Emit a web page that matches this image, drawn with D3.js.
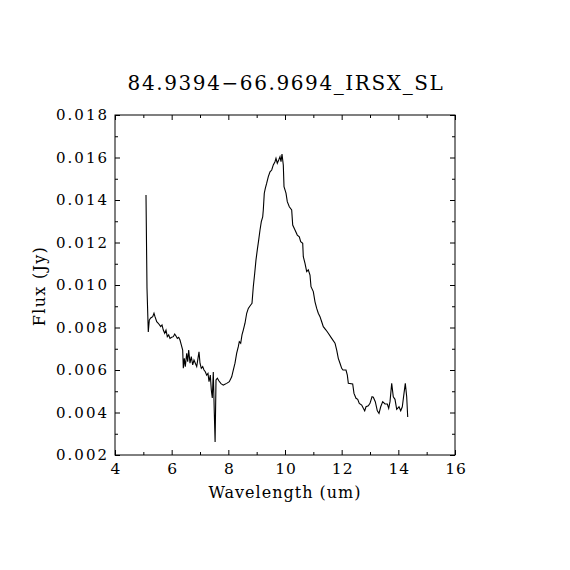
<!DOCTYPE html>
<html>
<head>
<meta charset="utf-8">
<script src="https://cdn.jsdelivr.net/npm/d3@7"></script>
<style>
  html, body { margin: 0; padding: 0; background: #fff; }
  svg text { font-family: "DejaVu Serif", "Liberation Serif", serif; fill: #000; }
</style>
</head>
<body>
<svg id="chart" width="570" height="570"></svg>
<script>
// Spectrum
const wavelength = [
  5.094, 5.129, 5.175, 5.211, 5.260, 5.331, 5.376, 5.412, 5.472, 5.528,
  5.613, 5.659, 5.705, 5.754, 5.800, 5.846, 5.895, 5.941, 6.001, 6.058,
  6.107, 6.153, 6.199, 6.248, 6.294, 6.340, 6.389, 6.411, 6.446, 6.481,
  6.531, 6.566, 6.601, 6.647, 6.693, 6.742, 6.788, 6.834, 6.884, 6.929,
  6.965, 7.000, 7.046, 7.095, 7.141, 7.187, 7.236, 7.282, 7.318, 7.364,
  7.399, 7.434, 7.469, 7.505, 7.533, 7.565, 7.611, 7.671, 7.741, 7.822,
  7.942, 8.034, 8.119, 8.175, 8.235, 8.295, 8.352, 8.387, 8.436, 8.482,
  8.528, 8.588, 8.648, 8.705, 8.789, 8.835, 8.881, 8.931, 8.976, 9.022,
  9.072, 9.118, 9.164, 9.213, 9.234, 9.269, 9.305, 9.354, 9.411, 9.471,
  9.531, 9.587, 9.647, 9.682, 9.728, 9.778, 9.824, 9.859, 9.894, 9.940,
  9.965, 10.035, 10.081, 10.152, 10.236, 10.272, 10.353, 10.434, 10.505, 10.554,
  10.625, 10.646, 10.706, 10.766, 10.822, 10.882, 10.918, 10.999, 11.059, 11.119,
  11.175, 11.235, 11.295, 11.352, 11.447, 11.528, 11.648, 11.765, 11.825, 11.881,
  11.941, 12.001, 12.047, 12.153, 12.200, 12.235, 12.389, 12.435, 12.506, 12.566,
  12.622, 12.707, 12.764, 12.813, 12.859, 12.940, 13.000, 13.071, 13.117, 13.187,
  13.258, 13.318, 13.378, 13.448, 13.529, 13.611, 13.660, 13.706, 13.766, 13.822,
  13.882, 13.942, 14.024, 14.084, 14.140, 14.200, 14.246, 14.295, 14.331
];
const flux = [
  0.01424, 0.00986, 0.00779, 0.00835, 0.00845, 0.00851, 0.00867, 0.00851, 0.00827, 0.00820,
  0.00804, 0.00812, 0.00788, 0.00773, 0.00788, 0.00757, 0.00765, 0.00749, 0.00754, 0.00757,
  0.00769, 0.00760, 0.00749, 0.00754, 0.00741, 0.00718, 0.00694, 0.00608, 0.00655, 0.00616,
  0.00679, 0.00639, 0.00694, 0.00632, 0.00663, 0.00624, 0.00647, 0.00632, 0.00616, 0.00655,
  0.00686, 0.00632, 0.00608, 0.00616, 0.00600, 0.00592, 0.00576, 0.00584, 0.00545, 0.00576,
  0.00506, 0.00468, 0.00591, 0.00398, 0.00261, 0.00553, 0.00561, 0.00548, 0.00536, 0.00529,
  0.00537, 0.00545, 0.00568, 0.00600, 0.00632, 0.00679, 0.00710, 0.00733, 0.00726, 0.00765,
  0.00788, 0.00820, 0.00867, 0.00890, 0.00906, 0.00914, 0.00992, 0.01055, 0.01118, 0.01165,
  0.01212, 0.01259, 0.01298, 0.01321, 0.01353, 0.01432, 0.01455, 0.01479, 0.01510, 0.01533,
  0.01541, 0.01565, 0.01580, 0.01596, 0.01573, 0.01588, 0.01604, 0.01580, 0.01616, 0.01565,
  0.01463, 0.01432, 0.01392, 0.01368, 0.01353, 0.01282, 0.01259, 0.01235, 0.01227, 0.01204,
  0.01196, 0.01133, 0.01102, 0.01063, 0.01071, 0.01047, 0.00992, 0.00969, 0.00921, 0.00890,
  0.00867, 0.00851, 0.00827, 0.00804, 0.00788, 0.00773, 0.00749, 0.00726, 0.00694, 0.00655,
  0.00632, 0.00608, 0.00600, 0.00600, 0.00576, 0.00537, 0.00534, 0.00490, 0.00467, 0.00462,
  0.00443, 0.00435, 0.00420, 0.00408, 0.00427, 0.00432, 0.00443, 0.00474, 0.00472, 0.00451,
  0.00408, 0.00396, 0.00427, 0.00451, 0.00440, 0.00440, 0.00420, 0.00451, 0.00537, 0.00474,
  0.00462, 0.00415, 0.00427, 0.00408, 0.00427, 0.00490, 0.00537, 0.00474, 0.00379
];

// Axis ticks
const xMajorTicks = [4, 6, 8, 10, 12, 14, 16];
const xMinorTicks = [5, 7, 9, 11, 13, 15];
const yMajorTicks = [0.002, 0.004, 0.006, 0.008, 0.010, 0.012, 0.014, 0.016, 0.018];
const yMinorTicks = [0.003, 0.005, 0.007, 0.009, 0.011, 0.013, 0.015, 0.017];

const titleText = "84.9394\u221266.9694_IRSX_SL";
const xLabel = "Wavelength (um)";
const yLabel = "Flux (Jy)";

const box = { left: 115, right: 455, top: 115, bottom: 455 };
const MAJOR = 5, MINOR = 3;

const svg = d3.select('#chart');

const x = d3.scaleLinear().domain([4, 16]).range([box.left, box.right]);
const y = d3.scaleLinear().domain([0.002, 0.018]).range([box.bottom, box.top]);

// frame
svg.append('rect')
  .attr('x', box.left).attr('y', box.top)
  .attr('width', box.right - box.left).attr('height', box.bottom - box.top)
  .attr('fill', 'none').attr('stroke', '#000').attr('stroke-width', 1);

function drawAxis(axis, transform, labels) {
  const g = svg.append('g').attr('transform', transform).call(axis);
  g.select('.domain').remove();
  g.selectAll('line').attr('stroke', '#000').attr('stroke-width', 1);
  if (!labels) g.selectAll('text').remove();
  return g;
}

// bottom / top
const xb = drawAxis(d3.axisBottom(x).tickValues(xMajorTicks).tickSize(-MAJOR).tickPadding(8)
  .tickFormat(d3.format('d')), `translate(0,${box.bottom})`, true);
xb.selectAll('text').style('font-size', '15.5px').attr('letter-spacing', '1px').attr('dx', '0.5');
drawAxis(d3.axisBottom(x).tickValues(xMinorTicks).tickSize(-MINOR), `translate(0,${box.bottom})`, false);
drawAxis(d3.axisTop(x).tickValues(xMajorTicks).tickSize(-MAJOR), `translate(0,${box.top})`, false);
drawAxis(d3.axisTop(x).tickValues(xMinorTicks).tickSize(-MINOR), `translate(0,${box.top})`, false);

// left / right
const yl = drawAxis(d3.axisLeft(y).tickValues(yMajorTicks).tickSize(-MAJOR).tickPadding(6)
  .tickFormat(d3.format('.3f')), `translate(${box.left},0)`, true);
yl.selectAll('text').style('font-size', '15px').attr('letter-spacing', '2px');
drawAxis(d3.axisLeft(y).tickValues(yMinorTicks).tickSize(-MINOR), `translate(${box.left},0)`, false);
drawAxis(d3.axisRight(y).tickValues(yMajorTicks).tickSize(-MAJOR), `translate(${box.right},0)`, false);
drawAxis(d3.axisRight(y).tickValues(yMinorTicks).tickSize(-MINOR), `translate(${box.right},0)`, false);

// spectrum
const points = wavelength.map((w, i) => [w, flux[i]]);
svg.append('path')
  .datum(points)
  .attr('fill', 'none')
  .attr('stroke', '#000')
  .attr('stroke-width', 1.1)
  .attr('d', d3.line().x(d => x(d[0])).y(d => y(d[1])));

// titles
svg.append('text')
  .attr('x', 286).attr('y', 90)
  .attr('text-anchor', 'middle')
  .style('font-size', '20px')
  .attr('letter-spacing', '1.6px')
  .text(titleText);

svg.append('text')
  .attr('x', 285).attr('y', 498)
  .attr('text-anchor', 'middle')
  .style('font-size', '16px')
  .attr('letter-spacing', '1px')
  .text(xLabel);

svg.append('text')
  .attr('transform', 'translate(45,286) rotate(-90)')
  .attr('text-anchor', 'middle')
  .style('font-size', '16px')
  .attr('letter-spacing', '1.3px')
  .text(yLabel);
</script>
</body>
</html>
